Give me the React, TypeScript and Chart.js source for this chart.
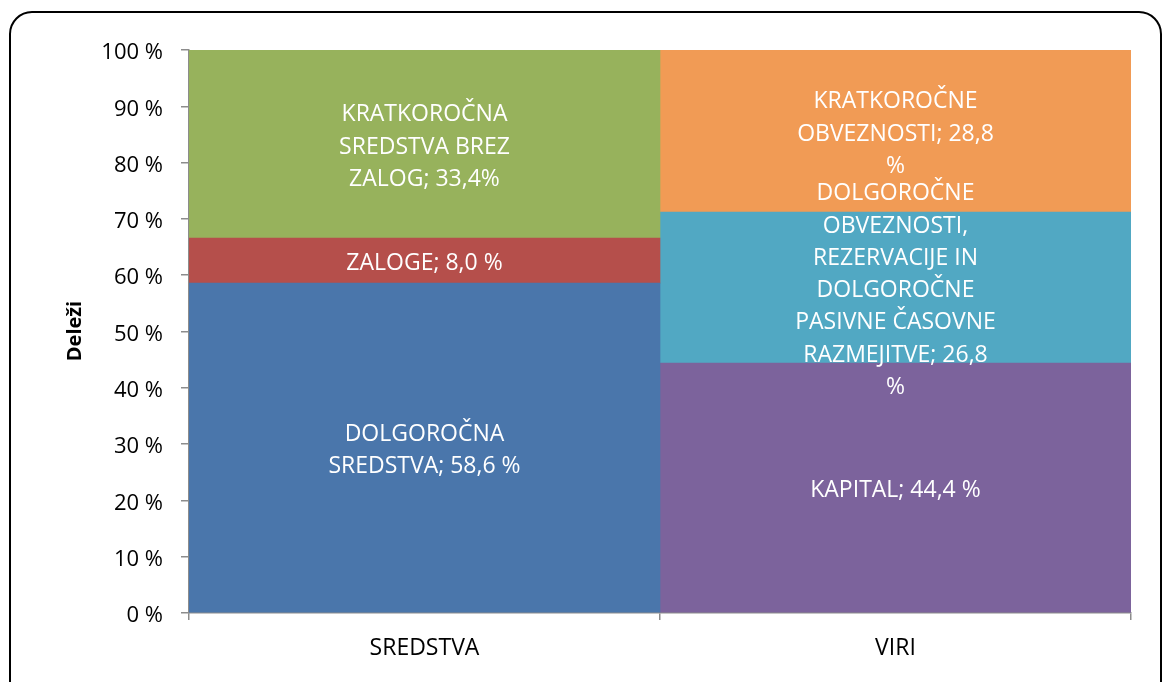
import React, { useEffect, useRef } from "react";
import { Chart, registerables } from "chart.js";

Chart.register(...registerables);

const categories = ["SREDSTVA", "VIRI"];
const yTicks = [0, 10, 20, 30, 40, 50, 60, 70, 80, 90, 100];
const axisTitle = "Deleži";

const dolgorocnaSredstva = [58.6, null];
const zaloge = [8.0, null];
const kratkorocnaSredstva = [33.4, null];
const kapital = [null, 44.4];
const dolgorocneObveznosti = [null, 26.8];
const kratkorocneObveznosti = [null, 28.8];

const lblDolgorocnaSredstva = ["DOLGOROČNA", "SREDSTVA; 58,6 %"];
const lblZaloge = ["ZALOGE; 8,0 %"];
const lblKratkorocnaSredstva = ["KRATKOROČNA", "SREDSTVA BREZ", "ZALOG; 33,4%"];
const lblKapital = ["KAPITAL; 44,4 %"];
const lblDolgorocneObveznosti = [
  "DOLGOROČNE",
  "OBVEZNOSTI,",
  "REZERVACIJE IN",
  "DOLGOROČNE",
  "PASIVNE ČASOVNE",
  "RAZMEJITVE; 26,8",
  "%",
];
const lblKratkorocneObveznosti = ["KRATKOROČNE", "OBVEZNOSTI; 28,8", "%"];

const FONT = "'Open Sans', 'DejaVu Sans', sans-serif";

export default function App() {
  const ref = useRef<HTMLCanvasElement | null>(null);

  useEffect(() => {
    document.body.style.margin = "0";
    const canvas = ref.current;
    if (!canvas) return;

    const segLabels = [
      lblDolgorocnaSredstva,
      lblZaloge,
      lblKratkorocnaSredstva,
      lblKapital,
      lblDolgorocneObveznosti,
      lblKratkorocneObveznosti,
    ];

    const frame = {
      id: "frame",
      afterDraw(chart: any) {
        const ctx = chart.ctx;
        ctx.save();
        ctx.strokeStyle = "#000";
        ctx.lineWidth = 2;
        ctx.beginPath();
        (ctx as any).roundRect(10, 12, 1151, 700, 22);
        ctx.stroke();
        // y title
        ctx.translate(75, 331);
        ctx.rotate(-Math.PI / 2);
        ctx.font = `bold 20px ${FONT}`;
        ctx.fillStyle = "#000";
        ctx.textAlign = "center";
        ctx.textBaseline = "middle";
        ctx.fillText(axisTitle, 0, 0);
        ctx.restore();
      },
    };

    const labelsPlugin = {
      id: "segLabels",
      afterDatasetsDraw(chart: any) {
        const ctx = chart.ctx;
        ctx.save();
        ctx.font = `23px ${FONT}`;
        ctx.fillStyle = "#fff";
        ctx.textAlign = "center";
        ctx.textBaseline = "middle";
        const lh = 32.3;
        chart.data.datasets.forEach((ds: any, i: number) => {
          const meta = chart.getDatasetMeta(i);
          meta.data.forEach((el: any, j: number) => {
            if (ds.data[j] == null) return;
            const cx = el.x;
            const cy = (el.y + el.base) / 2 + 3;
            const lines = segLabels[i];
            const start = cy - ((lines.length - 1) * lh) / 2;
            lines.forEach((t: string, k: number) => ctx.fillText(t, cx, start + k * lh));
          });
        });
        ctx.restore();
      },
    };

    const chart = new Chart(canvas, {
      type: "bar",
      data: {
        labels: categories,
        datasets: [
          { label: "Dolgoročna sredstva", data: dolgorocnaSredstva, backgroundColor: "#4A76AB" },
          { label: "Zaloge", data: zaloge, backgroundColor: "#B54F4B" },
          { label: "Kratkoročna sredstva brez zalog", data: kratkorocnaSredstva, backgroundColor: "#97B25C" },
          { label: "Kapital", data: kapital, backgroundColor: "#7C639C" },
          { label: "Dolgoročne obveznosti", data: dolgorocneObveznosti, backgroundColor: "#51A8C3" },
          { label: "Kratkoročne obveznosti", data: kratkorocneObveznosti, backgroundColor: "#F19B55" },
        ] as any,
      },
      options: {
        responsive: false,
        animation: false,
        devicePixelRatio: 1,
        layout: { padding: { top: 50, right: 32, left: 0, bottom: 0 } },
        plugins: { legend: { display: false }, tooltip: { enabled: false } },
        datasets: { bar: { barPercentage: 1, categoryPercentage: 1, skipNull: false } } as any,
        scales: {
          x: {
            stacked: true,
            offset: true,
            grid: {
              offset: true,
              drawOnChartArea: false,
              drawTicks: true,
              tickLength: 7,
              color: "#8c8c8c",
              lineWidth: 1.5,
            },
            border: { display: true, color: "#8c8c8c", width: 1.5 },
            ticks: { color: "#000", font: { family: FONT, size: 23 }, padding: 15 },
            afterFit(scale: any) {
              scale.height = 69;
            },
          },
          y: {
            stacked: true,
            min: 0,
            max: 100,
            afterBuildTicks(scale: any) {
              scale.ticks = yTicks.map((v) => ({ value: v }));
            },
            grid: {
              drawOnChartArea: false,
              drawTicks: true,
              tickLength: 8,
              color: "#8c8c8c",
              lineWidth: 1.5,
            },
            border: { display: true, color: "#8c8c8c", width: 1.5 },
            ticks: {
              color: "#000",
              font: { family: FONT, size: 22 },
              padding: 18,
              labelOffset: 3,
              callback: (v: any) => `${v} %`,
            },
            afterFit(scale: any) {
              scale.width = 189;
            },
          },
        },
      },
      plugins: [labelsPlugin, frame],
    });
    return () => chart.destroy();
  }, []);

  return <canvas ref={ref} width={1163} height={682} style={{ display: "block", width: 1163, height: 682 }} />;
}
